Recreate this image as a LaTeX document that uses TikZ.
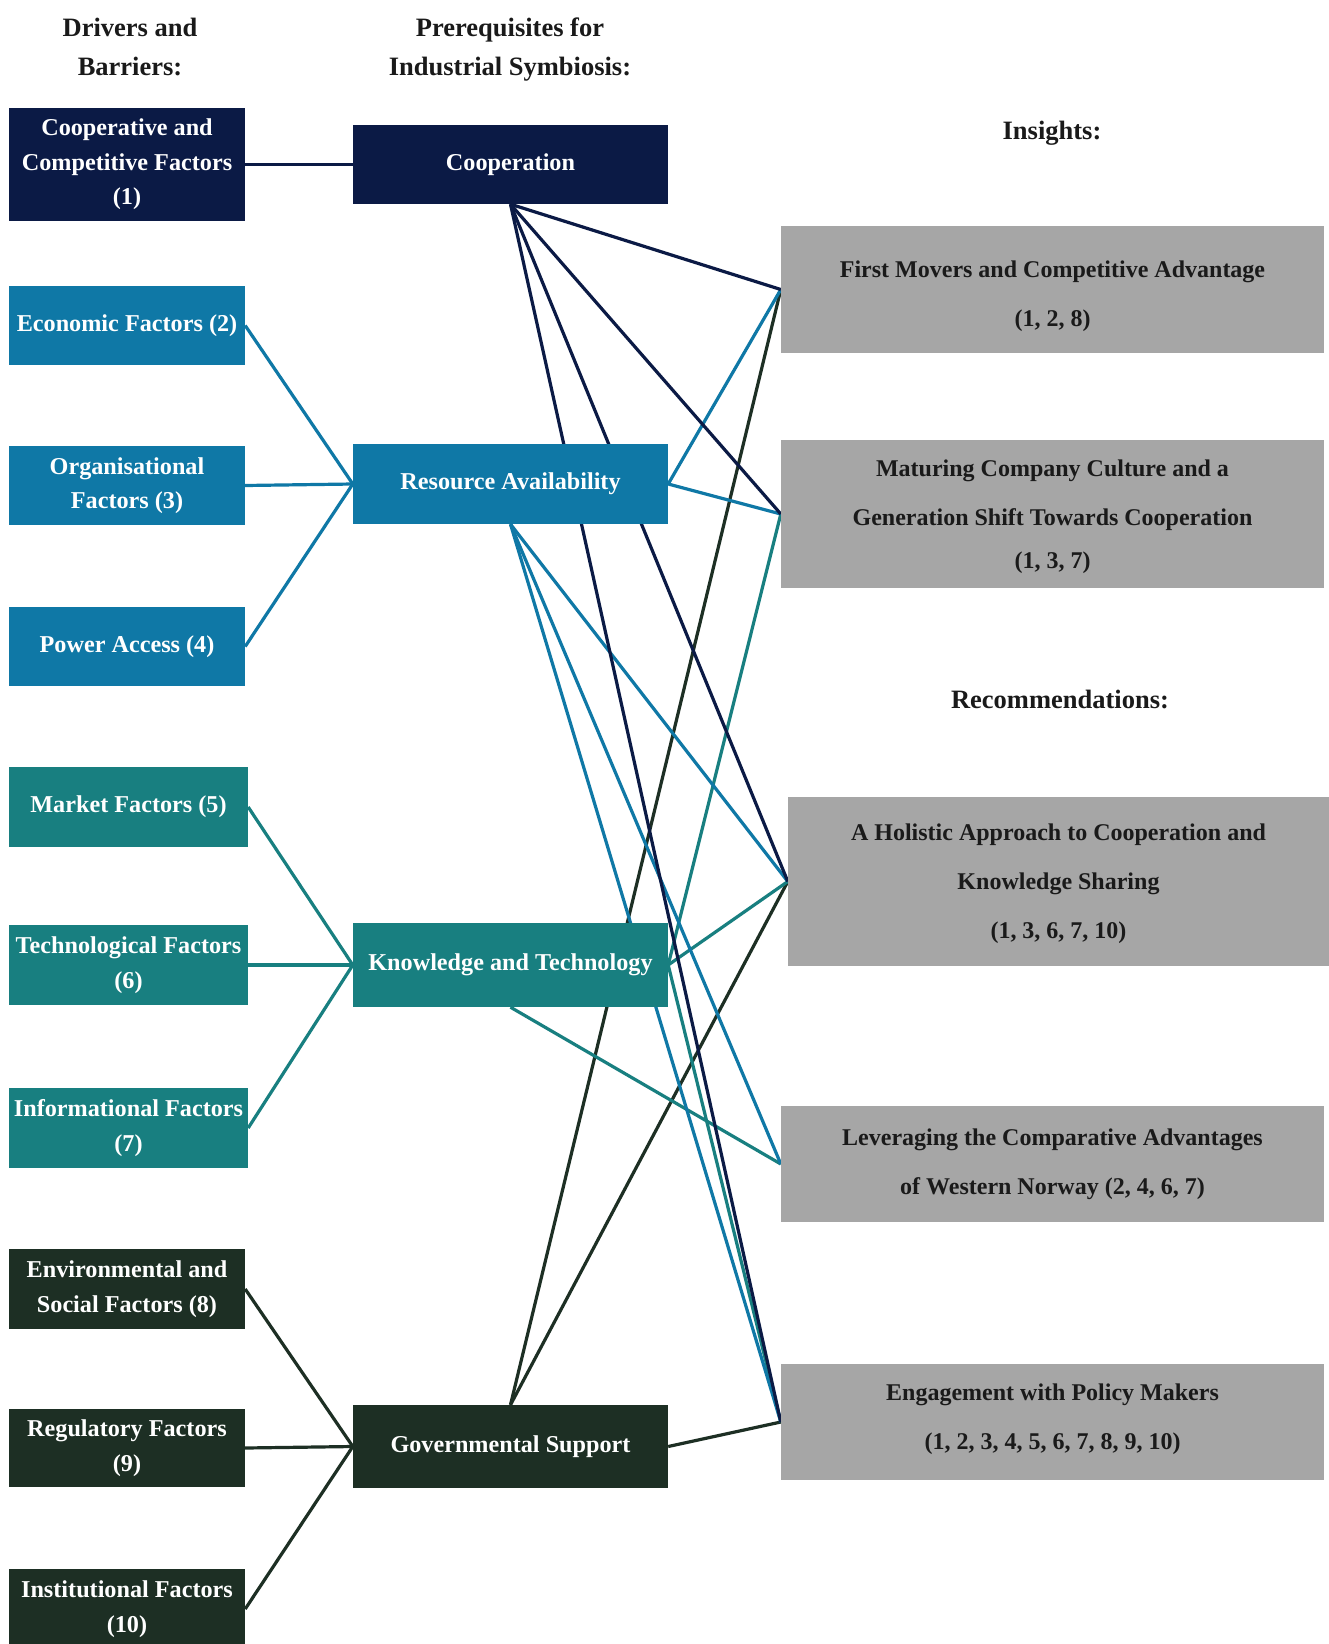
\documentclass[tikz,border=0pt]{standalone}
\usepackage{fontspec}
\setmainfont{Liberation Serif}
\usetikzlibrary{backgrounds}
\definecolor{cnavy}{HTML}{0B1A45}
\definecolor{cblue}{HTML}{0F78A6}
\definecolor{cteal}{HTML}{187F80}
\definecolor{cgreen}{HTML}{1D2F24}
\definecolor{cgray}{HTML}{A6A6A6}
\definecolor{ctext}{HTML}{1A1A1A}
\begin{document}
\begin{tikzpicture}[x=1pt,y=-1pt,
  box/.style={rectangle, inner sep=0pt, align=center, text=white,
    font=\fontsize{24.2}{34.6}\selectfont\bfseries},
  rbox/.style={rectangle, inner sep=0pt, align=center, fill=cgray, text=ctext,
    font=\fontsize{24}{49}\selectfont\bfseries},
  hdr/.style={align=center, inner sep=0pt, text=ctext,
    font=\fontsize{26.5}{39}\selectfont\bfseries},
  link/.style={line width=3.2pt}]
\useasboundingbox (0,0) rectangle (1329,1644);

% headers
\node[hdr] (h1) at (130,46.5) {Drivers and\\Barriers:};
\node[hdr] (h2) at (510,49.5) {Prerequisites for\\Industrial Symbiosis:};
\node[hdr] (h3) at (1052,133) {Insights:};
\node[hdr] (h4) at (1060,699) {Recommendations:};

% drivers and barriers
\node[box, fill=cnavy, minimum width=236pt, minimum height=113pt] (d1) at (127,164.5) {Cooperative and\\Competitive Factors\\(1)};
\node[box, fill=cblue, minimum width=236pt, minimum height=79pt] (d2) at (127,325.5) {Economic Factors (2)};
\node[box, fill=cblue, minimum width=236pt, minimum height=79pt] (d3) at (127,485.5) {Organisational\\Factors (3)};
\node[box, fill=cblue, minimum width=236pt, minimum height=79pt] (d4) at (127,646.5) {Power Access (4)};
\node[box, fill=cteal, minimum width=239pt, minimum height=80pt] (d5) at (128.5,807) {Market Factors (5)};
\node[box, fill=cteal, minimum width=239pt, minimum height=80pt] (d6) at (128.5,965) {Technological Factors\\(6)};
\node[box, fill=cteal, minimum width=239pt, minimum height=80pt] (d7) at (128.5,1128) {Informational Factors\\(7)};
\node[box, fill=cgreen, minimum width=236pt, minimum height=80pt] (d8) at (127,1289) {Environmental and\\Social Factors (8)};
\node[box, fill=cgreen, minimum width=236pt, minimum height=78pt] (d9) at (127,1448) {Regulatory Factors\\(9)};
\node[box, fill=cgreen, minimum width=236pt, minimum height=80pt] (d10) at (127,1609) {Institutional Factors\\(10)};

% prerequisites
\node[box, fill=cnavy, minimum width=315pt, minimum height=79pt] (p1) at (510.5,164.5) {Cooperation};
\node[box, fill=cblue, minimum width=315pt, minimum height=80pt] (p2) at (510.5,484) {Resource Availability};
\node[box, fill=cteal, minimum width=315pt, minimum height=84pt] (p3) at (510.5,965) {Knowledge and Technology};
\node[box, fill=cgreen, minimum width=315pt, minimum height=83pt] (p4) at (510.5,1446.5) {Governmental Support};

% insights and recommendations
\node[rbox, minimum width=543pt, minimum height=127pt] (r1) at (1052.5,289.5) {\rule{0pt}{30pt}First Movers and Competitive Advantage\\(1, 2, 8)};
\node[rbox, minimum width=543pt, minimum height=148pt] (r2) at (1052.5,514) {\rule{0pt}{23pt}Maturing Company Culture and a\\Generation Shift Towards Cooperation\\[-6pt](1, 3, 7)};
\node[rbox, minimum width=541pt, minimum height=169pt] (r3) at (1058.5,881.5) {\rule{0pt}{22pt}A Holistic Approach to Cooperation and\\Knowledge Sharing\\(1, 3, 6, 7, 10)};
\node[rbox, minimum width=543pt, minimum height=116pt] (r4) at (1052.5,1164) {Leveraging the Comparative Advantages\\of Western Norway (2, 4, 6, 7)};
\node[rbox, minimum width=543pt, minimum height=116pt] (r5) at (1052.5,1422) {Engagement with Policy Makers\\(1, 2, 3, 4, 5, 6, 7, 8, 9, 10)\rule[-10pt]{0pt}{0pt}};

\begin{scope}[on background layer]
  \fill[white] (0,0) rectangle (1329,1644);
  % drivers to prerequisites
  \draw[link, cnavy] (d1.east) -- (p1.west);
  \draw[link, cblue] (d2.east) -- (p2.west);
  \draw[link, cblue] (d3.east) -- (p2.west);
  \draw[link, cblue] (d4.east) -- (p2.west);
  \draw[link, cteal] (d5.east) -- (p3.west);
  \draw[link, cteal] (d6.east) -- (p3.west);
  \draw[link, cteal] (d7.east) -- (p3.west);
  \draw[link, cgreen] (d8.east) -- (p4.west);
  \draw[link, cgreen] (d9.east) -- (p4.west);
  \draw[link, cgreen] (d10.east) -- (p4.west);
  % governmental support
  \draw[link, cgreen] (p4.north) -- (r1.west);
  \draw[link, cgreen] (p4.north) -- (r3.west);
  \draw[link, cgreen] (p4.east) -- (r5.west);
  % knowledge and technology
  \draw[link, cteal] (p3.east) -- (r2.west);
  \draw[link, cteal] (p3.east) -- (r3.west);
  \draw[link, cteal] (p3.east) -- (r5.west);
  \draw[link, cteal] (p3.south) -- (r4.west);
  % resource availability
  \draw[link, cblue] (p2.east) -- (r1.west);
  \draw[link, cblue] (p2.east) -- (r2.west);
  \draw[link, cblue] (p2.south) -- (r3.west);
  \draw[link, cblue] (p2.south) -- (r4.west);
  \draw[link, cblue] (p2.south) -- (r5.west);
  % cooperation
  \draw[link, cnavy] (p1.south) -- (r1.west);
  \draw[link, cnavy] (p1.south) -- (r2.west);
  \draw[link, cnavy] (p1.south) -- (r3.west);
  \draw[link, cnavy] (p1.south) -- (r5.west);
\end{scope}
\end{tikzpicture}
\end{document}
